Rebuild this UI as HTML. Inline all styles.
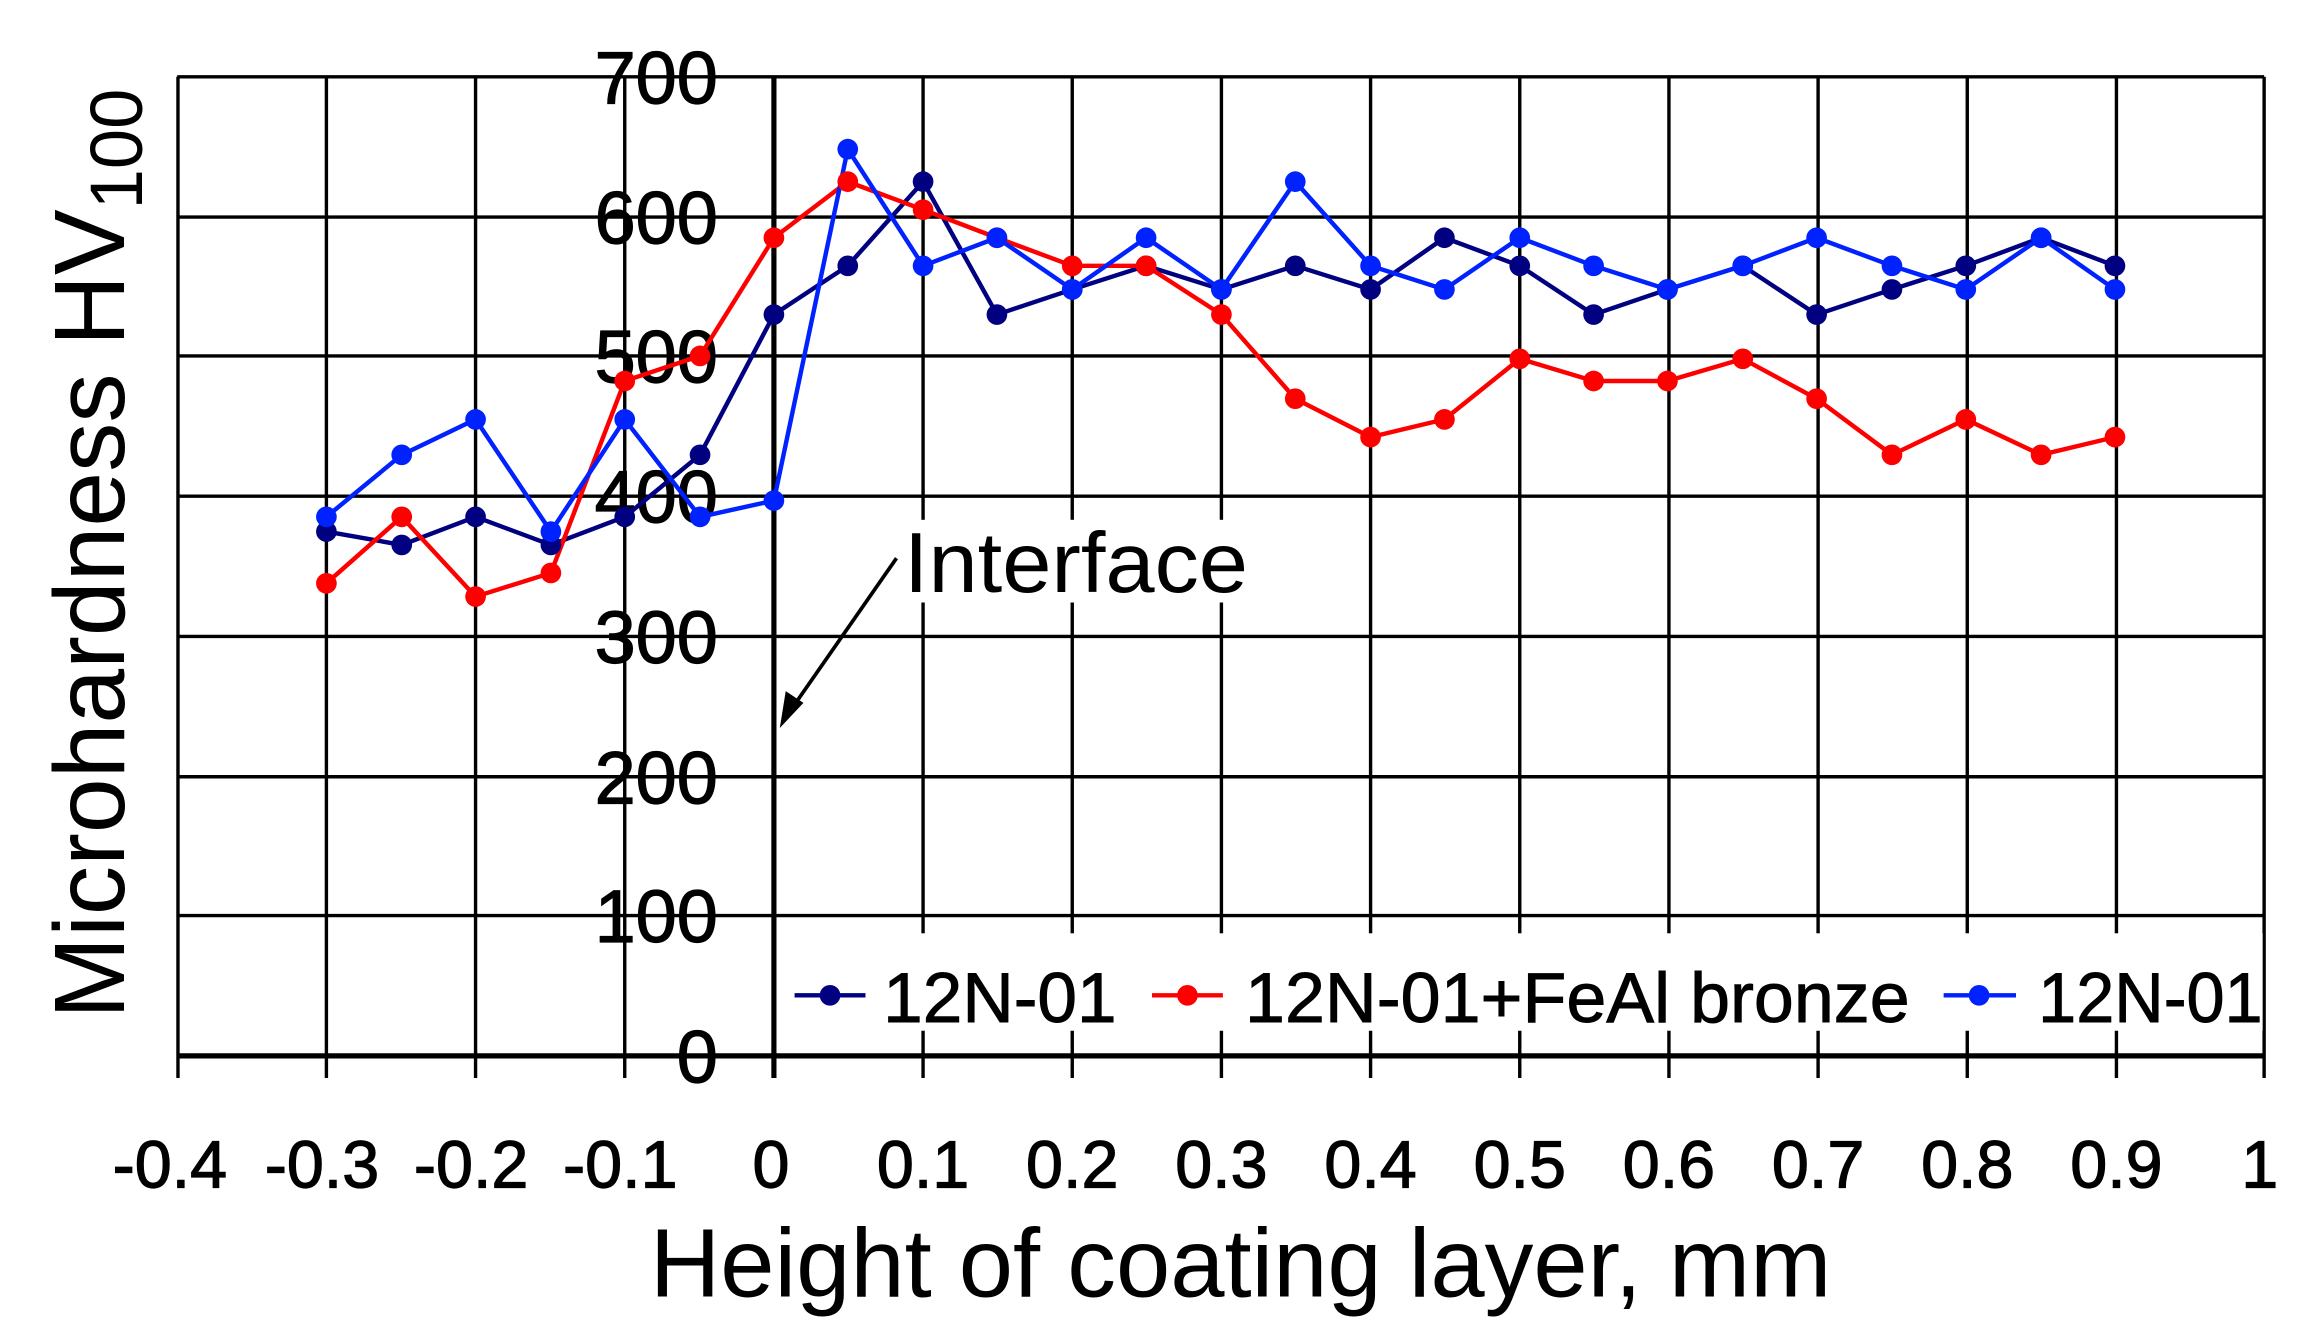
<!DOCTYPE html>
<html><head><meta charset="utf-8"><style>html,body{margin:0;padding:0;background:#fff}svg{display:block}</style></head><body>
<svg width="2304" height="1332" viewBox="0 0 1560 902" preserveAspectRatio="none" xmlns="http://www.w3.org/2000/svg" font-family="Liberation Sans, Arial, sans-serif">
<rect width="1560" height="902" fill="#fff"/>
<g stroke="#000" stroke-width="2.3" fill="none">
<line x1="120" y1="52" x2="1533" y2="52"/>
<line x1="120" y1="147" x2="1533" y2="147"/>
<line x1="120" y1="241" x2="1533" y2="241"/>
<line x1="120" y1="336" x2="1533" y2="336"/>
<line x1="120" y1="431" x2="1533" y2="431"/>
<line x1="120" y1="526" x2="1533" y2="526"/>
<line x1="120" y1="620" x2="1533" y2="620"/>
<line x1="120" y1="715" x2="1533" y2="715" stroke-width="3.5"/>
<line x1="120.5" y1="52" x2="120.5" y2="730"/>
<line x1="221" y1="52" x2="221" y2="730"/>
<line x1="322" y1="52" x2="322" y2="730"/>
<line x1="423" y1="52" x2="423" y2="730"/>
<line x1="625" y1="52" x2="625" y2="730"/>
<line x1="726" y1="52" x2="726" y2="730"/>
<line x1="827" y1="52" x2="827" y2="730"/>
<line x1="928" y1="52" x2="928" y2="730"/>
<line x1="1029" y1="52" x2="1029" y2="730"/>
<line x1="1130" y1="52" x2="1130" y2="730"/>
<line x1="1231" y1="52" x2="1231" y2="730"/>
<line x1="1332" y1="52" x2="1332" y2="730"/>
<line x1="1433" y1="52" x2="1433" y2="730"/>
<line x1="1533" y1="52" x2="1533" y2="730"/>
</g>
<rect x="530" y="632" width="1002" height="66" fill="#fff"/>
<rect x="610" y="352" width="240" height="56" fill="#fff"/>
<line x1="524" y1="52" x2="524" y2="730" stroke="#000" stroke-width="3.5"/>
<g font-size="50" text-anchor="end" fill="#000" stroke="#000" stroke-width="0.8">
<text x="486" y="70">700</text><text x="486" y="165">600</text><text x="486" y="259">500</text><text x="486" y="354">400</text><text x="486" y="449">300</text><text x="486" y="544">200</text><text x="486" y="638">100</text><text x="486" y="733">0</text>
</g>
<g font-size="45" text-anchor="middle" fill="#000" stroke="#000" stroke-width="0.8">
<text x="115" y="804">-0.4</text><text x="218" y="804">-0.3</text><text x="319" y="804">-0.2</text><text x="420" y="804">-0.1</text><text x="522" y="804">0</text><text x="625" y="804">0.1</text><text x="726" y="804">0.2</text><text x="827" y="804">0.3</text><text x="928" y="804">0.4</text><text x="1029" y="804">0.5</text><text x="1130" y="804">0.6</text><text x="1231" y="804">0.7</text><text x="1332" y="804">0.8</text><text x="1433" y="804">0.9</text><text x="1530" y="804">1</text>
</g>
<text x="840" y="878" font-size="66" text-anchor="middle" textLength="800" lengthAdjust="spacingAndGlyphs">Height of coating layer, mm</text>
<text transform="translate(84,375) rotate(-90)" font-size="68" text-anchor="middle" textLength="630" lengthAdjust="spacingAndGlyphs">Microhardness HV<tspan font-size="50" dy="12">100</tspan></text>
<text x="612" y="401" font-size="58" textLength="233" lengthAdjust="spacingAndGlyphs">Interface</text>
<line x1="607" y1="378" x2="536" y2="480" stroke="#000" stroke-width="2.5"/>
<polygon points="528,493 532,468 544,476" fill="#000"/>
<g fill="none" stroke-width="3">
<polyline stroke="#000080" points="221,360 272,369 322,350 373,369 423,350 474,308 524,213 574,180 625,123 675,213 726,196 776,180 827,196 877,180 928,196 978,161 1029,180 1079,213 1129,196 1180,180 1230,213 1281,196 1331,180 1382,161 1432,180"/>
<polyline stroke="#ff0000" points="221,395 272,350 322,404 373,388 423,258 474,241 524,161 574,123 625,142 675,161 726,180 776,180 827,213 877,270 928,296 978,284 1029,243 1079,258 1129,258 1180,243 1230,270 1281,308 1331,284 1382,308 1432,296"/>
<polyline stroke="#0022ff" points="221,350 272,308 322,284 373,360 423,284 474,350 524,339 574,101 625,180 675,161 726,196 776,161 827,196 877,123 928,180 978,196 1029,161 1079,180 1129,196 1180,180 1230,161 1281,180 1331,196 1382,161 1432,196"/>
</g>
<g fill="#000080">
<circle cx="221" cy="360" r="7"/><circle cx="272" cy="369" r="7"/><circle cx="322" cy="350" r="7"/><circle cx="373" cy="369" r="7"/><circle cx="423" cy="350" r="7"/><circle cx="474" cy="308" r="7"/><circle cx="524" cy="213" r="7"/><circle cx="574" cy="180" r="7"/><circle cx="625" cy="123" r="7"/><circle cx="675" cy="213" r="7"/><circle cx="726" cy="196" r="7"/><circle cx="776" cy="180" r="7"/><circle cx="827" cy="196" r="7"/><circle cx="877" cy="180" r="7"/><circle cx="928" cy="196" r="7"/><circle cx="978" cy="161" r="7"/><circle cx="1029" cy="180" r="7"/><circle cx="1079" cy="213" r="7"/><circle cx="1129" cy="196" r="7"/><circle cx="1180" cy="180" r="7"/><circle cx="1230" cy="213" r="7"/><circle cx="1281" cy="196" r="7"/><circle cx="1331" cy="180" r="7"/><circle cx="1382" cy="161" r="7"/><circle cx="1432" cy="180" r="7"/>
</g>
<g fill="#ff0000">
<circle cx="221" cy="395" r="7"/><circle cx="272" cy="350" r="7"/><circle cx="322" cy="404" r="7"/><circle cx="373" cy="388" r="7"/><circle cx="423" cy="258" r="7"/><circle cx="474" cy="241" r="7"/><circle cx="524" cy="161" r="7"/><circle cx="574" cy="123" r="7"/><circle cx="625" cy="142" r="7"/><circle cx="675" cy="161" r="7"/><circle cx="726" cy="180" r="7"/><circle cx="776" cy="180" r="7"/><circle cx="827" cy="213" r="7"/><circle cx="877" cy="270" r="7"/><circle cx="928" cy="296" r="7"/><circle cx="978" cy="284" r="7"/><circle cx="1029" cy="243" r="7"/><circle cx="1079" cy="258" r="7"/><circle cx="1129" cy="258" r="7"/><circle cx="1180" cy="243" r="7"/><circle cx="1230" cy="270" r="7"/><circle cx="1281" cy="308" r="7"/><circle cx="1331" cy="284" r="7"/><circle cx="1382" cy="308" r="7"/><circle cx="1432" cy="296" r="7"/>
</g>
<g fill="#0022ff">
<circle cx="221" cy="350" r="7"/><circle cx="272" cy="308" r="7"/><circle cx="322" cy="284" r="7"/><circle cx="373" cy="360" r="7"/><circle cx="423" cy="284" r="7"/><circle cx="474" cy="350" r="7"/><circle cx="524" cy="339" r="7"/><circle cx="574" cy="101" r="7"/><circle cx="625" cy="180" r="7"/><circle cx="675" cy="161" r="7"/><circle cx="726" cy="196" r="7"/><circle cx="776" cy="161" r="7"/><circle cx="827" cy="196" r="7"/><circle cx="877" cy="123" r="7"/><circle cx="928" cy="180" r="7"/><circle cx="978" cy="196" r="7"/><circle cx="1029" cy="161" r="7"/><circle cx="1079" cy="180" r="7"/><circle cx="1129" cy="196" r="7"/><circle cx="1180" cy="180" r="7"/><circle cx="1230" cy="161" r="7"/><circle cx="1281" cy="180" r="7"/><circle cx="1331" cy="196" r="7"/><circle cx="1382" cy="161" r="7"/><circle cx="1432" cy="196" r="7"/>
</g>
<g stroke-width="3">
<line x1="538" y1="674" x2="586" y2="674" stroke="#000080"/><circle cx="562" cy="674" r="7" fill="#000080"/>
<line x1="780" y1="674" x2="828" y2="674" stroke="#ff0000"/><circle cx="804" cy="674" r="7" fill="#ff0000"/>
<line x1="1316" y1="674" x2="1365" y2="674" stroke="#0022ff"/><circle cx="1340" cy="674" r="7" fill="#0022ff"/>
</g>
<g font-size="48" fill="#000" stroke="#000" stroke-width="0.6">
<text x="598" y="692" textLength="158" lengthAdjust="spacingAndGlyphs">12N-01</text>
<text x="843" y="692" textLength="450" lengthAdjust="spacingAndGlyphs">12N-01+FeAl bronze</text>
<text x="1380" y="692" textLength="152" lengthAdjust="spacingAndGlyphs">12N-01</text>
</g>
</svg>
</body></html>
